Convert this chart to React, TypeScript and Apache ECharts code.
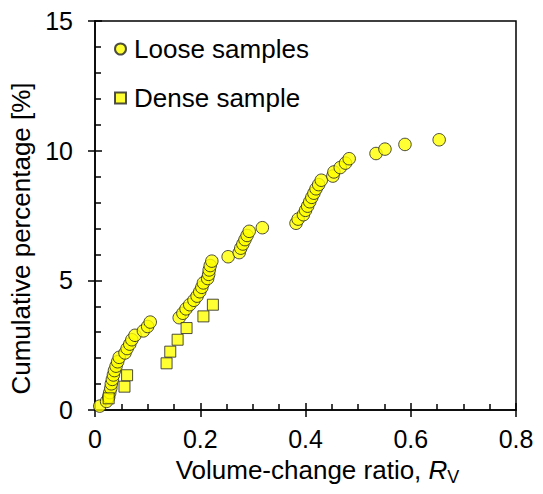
import React, { useEffect, useRef } from "react";
import * as echarts from "echarts";

const looseX = [
  0.009, 0.022, 0.026, 0.028, 0.030, 0.031, 0.033, 0.035, 0.037, 0.040,
  0.043, 0.046, 0.057, 0.061, 0.066, 0.070, 0.076, 0.092, 0.100, 0.105,
  0.160, 0.167, 0.173, 0.180, 0.188, 0.194, 0.199, 0.203, 0.206, 0.214,
  0.216, 0.217, 0.219, 0.222,
  0.253, 0.274, 0.277, 0.281, 0.285, 0.289, 0.293, 0.318,
  0.382, 0.386, 0.396, 0.400, 0.404, 0.408, 0.412, 0.416, 0.420, 0.425,
  0.430, 0.452, 0.454, 0.466, 0.476, 0.483,
  0.534, 0.551, 0.589, 0.654,
];
const looseY = [
  0.15, 0.33, 0.50, 0.67, 0.84, 1.01, 1.18, 1.35, 1.52, 1.69,
  1.86, 2.03, 2.20, 2.37, 2.54, 2.71, 2.88, 3.05, 3.22, 3.39,
  3.56, 3.73, 3.90, 4.06, 4.23, 4.39, 4.56, 4.73, 4.90, 5.07,
  5.23, 5.40, 5.57, 5.74,
  5.91, 6.07, 6.24, 6.40, 6.57, 6.73, 6.89, 7.03,
  7.20, 7.36, 7.53, 7.70, 7.86, 8.03, 8.20, 8.36, 8.53, 8.69,
  8.86, 9.02, 9.18, 9.35, 9.52, 9.69,
  9.89, 10.06, 10.24, 10.42,
];
const denseX = [0.026, 0.056, 0.061, 0.136, 0.143, 0.157, 0.174, 0.206, 0.224];
const denseY = [0.45, 0.90, 1.34, 1.80, 2.25, 2.71, 3.16, 3.61, 4.06];

const xTicks = { min: 0, max: 0.8, interval: 0.2 };
const yTicks = { min: 0, max: 15, interval: 5 };

const FONT = "'Liberation Sans', Arial, sans-serif";

export default function App() {
  const ref = useRef<HTMLDivElement>(null);
  useEffect(() => {
    if (!ref.current) return;
    const chart = echarts.init(ref.current, undefined, { renderer: "svg" });
    const line = { color: "#000", width: 1.5 };
    const baseX = {
      type: "value" as const,
      min: xTicks.min,
      max: xTicks.max,
      interval: xTicks.interval,
      position: "bottom" as const,
      splitLine: { show: false },
    };
    const baseY = {
      type: "value" as const,
      min: yTicks.min,
      max: yTicks.max,
      interval: yTicks.interval,
      position: "left" as const,
      splitLine: { show: false },
    };
    chart.setOption({
      animation: false,
      textStyle: { fontFamily: FONT },
      grid: {
        left: 95,
        right: 27,
        top: 21,
        bottom: 84,
        show: true,
        borderColor: "#000",
        borderWidth: 1.5,
      },
      legend: {
        orient: "vertical",
        left: 109,
        top: 31,
        padding: 5,
        itemWidth: 11,
        itemHeight: 11,
        itemGap: 23,
        textStyle: { fontSize: 26, color: "#000", fontFamily: FONT, padding: [0, 0, 0, 3] },
        data: ["Loose samples", "Dense sample"],
      },
      xAxis: [
        {
          ...baseX,
          axisLine: { show: true, lineStyle: line },
          axisTick: { show: true, inside: false, length: 7, lineStyle: line },
          minorTick: { show: false },
          axisLabel: { fontSize: 25, color: "#000", margin: 16, fontFamily: FONT },
          name: "{a|Volume-change ratio, }{i|R}{s|V}",
          nameLocation: "middle",
          nameGap: 44,
          nameTextStyle: {
            color: "#000",
            fontFamily: FONT,
            padding: [0, 0, 0, 24],
            rich: {
              a: { fontSize: 26, color: "#000", fontFamily: FONT, lineHeight: 32, verticalAlign: "middle" },
              i: { fontSize: 26, color: "#000", fontFamily: FONT, fontStyle: "italic", lineHeight: 32, verticalAlign: "middle" },
              s: { fontSize: 18, color: "#000", fontFamily: FONT, lineHeight: 12, verticalAlign: "bottom" },
            },
          },
        },
        {
          ...baseX,
          axisLine: { show: false },
          axisTick: { show: true, inside: true, length: 7, lineStyle: line },
          minorTick: { show: true, splitNumber: 4, length: 6, lineStyle: { color: "#000", width: 1.5 } },
          axisLabel: { show: false },
        },
      ],
      yAxis: [
        {
          ...baseY,
          axisLine: { show: true, lineStyle: line },
          axisTick: { show: true, inside: false, length: 7, lineStyle: line },
          minorTick: { show: false },
          axisLabel: { fontSize: 25, color: "#000", margin: 22, fontFamily: FONT },
          name: "Cumulative percentage [%]",
          nameLocation: "middle",
          nameGap: 52,
          nameTextStyle: { fontSize: 26, color: "#000", fontFamily: FONT, padding: [0, 46, 0, 0] },
        },
        {
          ...baseY,
          axisLine: { show: false },
          axisTick: { show: true, inside: true, length: 7, lineStyle: line },
          minorTick: { show: true, splitNumber: 5, length: 6, lineStyle: { color: "#000", width: 1.5 } },
          axisLabel: { show: false },
        },
      ],
      series: [
        {
          name: "Loose samples",
          type: "scatter",
          symbol: "circle",
          symbolSize: 12.5,
          xAxisIndex: 0,
          yAxisIndex: 0,
          itemStyle: { color: "#ffff00", borderColor: "#222", borderWidth: 1 },
          data: looseX.map((x, i) => [x, looseY[i]]),
          z: 3,
        },
        {
          name: "Dense sample",
          type: "scatter",
          symbol: "rect",
          symbolSize: 11,
          xAxisIndex: 0,
          yAxisIndex: 0,
          itemStyle: { color: "#ffff00", borderColor: "#222", borderWidth: 1 },
          data: denseX.map((x, i) => [x, denseY[i]]),
          z: 4,
        },
      ],
    });
    return () => chart.dispose();
  }, []);
  return (
    <div
      ref={ref}
      style={{ position: "fixed", left: 0, top: 0, width: 543, height: 494, background: "#fff" }}
    />
  );
}
